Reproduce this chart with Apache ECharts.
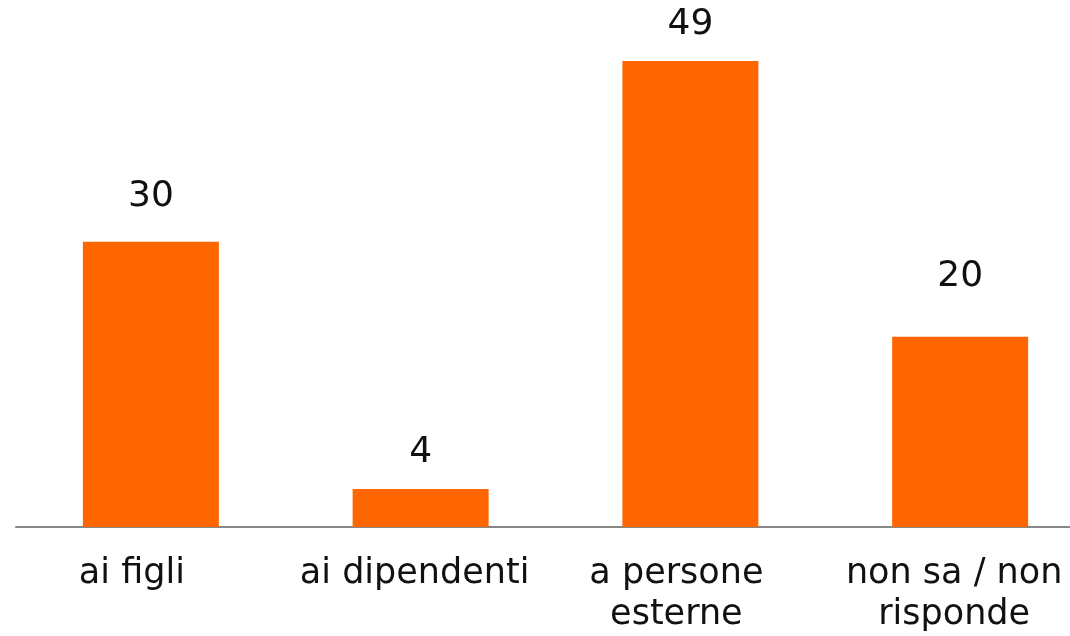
<!DOCTYPE html>
<html>
<head>
<meta charset="utf-8">
<script src="https://cdn.jsdelivr.net/npm/echarts@6/dist/echarts.min.js"></script>
<style>
  html, body { margin: 0; padding: 0; background: #fff; overflow: hidden; }
  /* the plot runs slightly past the right edge of the window */
  #chart { width: 1095px; height: 636px; }
</style>
</head>
<body>
<div id="chart"></div>
<script>
// Categories (labels on the x axis) and percentage values
const categories = ['ai figli', 'ai dipendenti', 'a persone\nesterne', 'non sa / non\nrisponde'];
const values = [30, 4, 49, 20];

// Per-bar gap between the bar top and its value label, and per-category label nudges
const labelGaps = [27, 18, 18, 42];
const categoryPadRight = [38, 12, 28, 12];

const chart = echarts.init(document.getElementById('chart'), null, { renderer: 'canvas' });

chart.setOption({
  animation: false,
  backgroundColor: '#ffffff',
  grid: { left: 16, right: 0, top: 51.5, bottom: 109, containLabel: false },
  xAxis: {
    type: 'category',
    data: categories.map((c, i) => ({
      value: c,
      textStyle: { padding: [0, categoryPadRight[i], 0, 0] }
    })),
    axisLine: { show: true, lineStyle: { color: '#878787', width: 2 } },
    axisTick: { show: false },
    axisLabel: {
      interval: 0,
      margin: 26,
      fontFamily: 'DejaVu Sans',
      fontSize: 35,
      lineHeight: 41,
      color: '#111111'
    }
  },
  yAxis: {
    type: 'value',
    min: 0,
    max: 50,
    show: false,
    splitLine: { show: false }
  },
  series: [{
    type: 'bar',
    data: values.map((v, i) => ({ value: v, label: { distance: labelGaps[i] } })),
    barWidth: 136,
    itemStyle: { color: '#FF6600' },
    label: {
      show: true,
      position: 'top',
      fontFamily: 'DejaVu Sans',
      fontSize: 36,
      lineHeight: 36,
      color: '#111111'
    }
  }]
});
</script>
</body>
</html>
